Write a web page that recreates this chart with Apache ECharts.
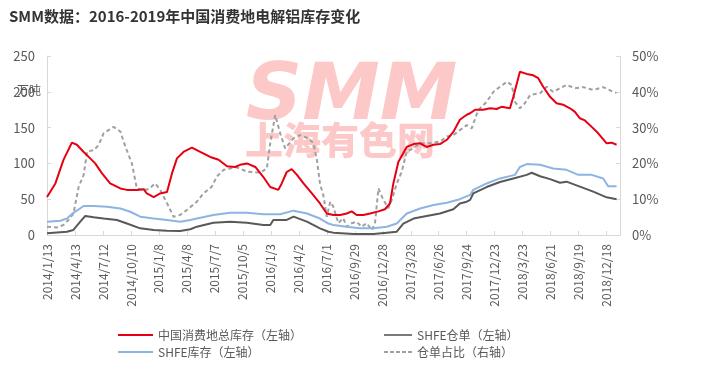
<!DOCTYPE html>
<html>
<head>
<meta charset="utf-8">
<script src="https://cdn.jsdelivr.net/npm/echarts@6/dist/echarts.min.js"></script>
<style>
  html, body { margin: 0; padding: 0; background: #fff; }
  #main { width: 717px; height: 376px; }
</style>
</head>
<body>
<div id="main"></div>
<script>
// x 轴：以 2014/1/13 为第 0 天，每 90 天一个刻度
const tickLabels = ['2014/1/13', '2014/4/13', '2014/7/12', '2014/10/10', '2015/1/8', '2015/4/8',
    '2015/7/7', '2015/10/5', '2016/1/3', '2016/4/2', '2016/7/1', '2016/9/29', '2016/12/28',
    '2017/3/28', '2017/6/26', '2017/9/24', '2017/12/23', '2018/3/23', '2018/6/21', '2018/9/19', '2018/12/18'];

const seriesNames = ['中国消费地总库存（左轴）', 'SHFE仓单（左轴）', 'SHFE库存（左轴）', '仓单占比（右轴）'];

// [天数, 万吨]
const totalStock = [[0,53],[27,72],[53,105],[80,129],[96,126],[118,116],[139,107],[155,100],[177,86],[203,72],
    [236,65],[257,63],[289,63],[311,64],[321,58],[343,53],[364,58],[386,60],[402,86],[418,107],[439,116],
    [466,122],[493,116],[525,109],[552,105],[579,96],[605,95],[621,98],[643,100],[670,95],[696,81],[718,67],
    [744,63],[755,72],[771,88],[787,92],[804,84],[825,72],[852,58],[878,44],[900,30],[921,28],[943,28],
    [964,30],[980,33],[996,28],[1018,28],[1039,30],[1066,33],[1087,36],[1103,44],[1114,72],[1130,102],
    [1157,123],[1179,127],[1200,128],[1221,123],[1243,126],[1264,127],[1286,133],[1307,144],[1328,161],
    [1350,168],[1361,170],[1377,175],[1403,175],[1425,177],[1446,176],[1462,179],[1489,177],[1500,193],
    [1521,228],[1543,225],[1564,223],[1580,219],[1596,207],[1618,193],[1639,184],[1660,182],[1682,177],
    [1698,172],[1714,163],[1730,160],[1752,151],[1773,142],[1800,128],[1816,129],[1832,126]];

const shfeWarrant = [[0,2.3],[64,4.6],[85,7],[107,18.6],[123,26.5],[150,24.7],[182,23],[225,21],[257,16],
    [300,9.3],[343,7],[386,6],[428,5.6],[461,8],[482,11.6],[535,17],[589,18.6],[643,17],[696,14],[718,14],
    [728,21],[771,21],[793,25.6],[836,18.6],[878,9.3],[905,4.6],[921,3.3],[986,1.4],[1050,1.4],[1093,3.3],
    [1125,4.6],[1146,16],[1179,23],[1221,26.5],[1264,30],[1307,36],[1328,44],[1350,46.5],[1361,49],
    [1371,58],[1414,67],[1457,74],[1500,79],[1543,84],[1559,87],[1586,82],[1618,78],[1650,73],[1671,74.5],
    [1714,67.5],[1757,60.5],[1800,52.6],[1832,50]];

const shfeStock = [[0,18.6],[43,20],[64,23],[85,31],[118,40.5],[150,40.5],[193,39.5],[236,37],[268,32.5],
    [300,25.6],[343,23],[386,21],[428,18.6],[461,21],[482,23],[535,28],[589,31],[643,31],[696,29],[750,29],
    [793,34],[836,30],[878,23],[905,16],[921,14],[964,11.6],[1007,9.3],[1050,9.3],[1093,11.6],[1125,16],
    [1157,30],[1200,37],[1243,42],[1286,45],[1328,50],[1361,56],[1371,63],[1414,72],[1457,79],[1505,84],
    [1521,95],[1543,99],[1586,98],[1628,93],[1671,91],[1709,84],[1752,84],[1789,79],[1805,68],[1832,68]];

// [天数, %]
const warrantRatio = [[0,2.3],[32,2.1],[53,2.8],[69,4.2],[85,6],[102,13.5],[118,16.8],[129,23.3],[150,23.7],
    [166,25.1],[182,28.4],[198,29.3],[214,30.2],[236,28.9],[252,24.7],[273,20],[289,13],[311,12.6],
    [327,12.8],[348,14.4],[364,12.6],[386,8.9],[407,5.1],[428,5.6],[450,7],[482,9.3],[503,11.6],[530,13.5],
    [546,16.3],[568,18.2],[589,18.6],[611,18.9],[643,17.7],[686,17.4],[707,18.6],[718,25.6],[734,33.5],
    [750,28.4],[766,24.2],[793,27],[814,27.9],[841,27],[857,25.6],[868,21],[878,14.4],[889,11],[900,5.1],
    [911,9.3],[921,7.9],[937,3.3],[953,4.7],[964,2.3],[980,3.3],[996,3.7],[1012,2.3],[1028,3.3],[1045,1.4],
    [1055,3.3],[1066,13],[1082,9.8],[1098,7.5],[1109,9.8],[1125,14.4],[1141,17.7],[1157,23.3],[1179,24.2],
    [1200,25.6],[1232,25.6],[1264,26.1],[1286,27.5],[1307,27.9],[1328,29.3],[1350,30.7],[1366,29.8],
    [1387,34.9],[1414,37.2],[1436,40],[1457,41.4],[1479,42.8],[1495,41.9],[1505,37.2],[1521,35.4],
    [1537,36.8],[1554,39.1],[1586,39.6],[1607,41.4],[1628,40],[1650,41],[1671,41.9],[1698,41],[1725,41.3],
    [1757,40.5],[1789,41.3],[1821,40],[1832,39.7]];

const FONT = '"Noto Sans CJK SC", sans-serif';
const labelColor = '#595959';
const axisGray = '#d9d9d9';

// 图例图标：实线 / 虚线
const solidIcon = 'path://M0,0h35v2h-35z';
const dashIcon = 'path://M0,0h4v2h-4zM6,0h4v2h-4zM12,0h4v2h-4zM18,0h4v2h-4zM24,0h4v2h-4z';

const chart = echarts.init(document.getElementById('main'));

const option = {
    animation: false,
    backgroundColor: '#fff',
    textStyle: { fontFamily: FONT },
    title: {
        text: 'SMM数据：2016-2019年中国消费地电解铝库存变化',
        left: 4,
        top: 4,
        textStyle: { fontSize: 15, fontWeight: 'bold', color: '#333', fontFamily: FONT }
    },
    graphic: [
        {
            type: 'text', left: 246, top: 60, z: -1,
            style: { text: 'SMM', fill: '#fcc8c8', font: 'italic 900 78px "DejaVu Sans"' }
        },
        {
            type: 'text', left: 245, top: 121, z: -1,
            style: { text: '上海有色网', fill: '#fcc8c8', font: '900 38px "Noto Sans CJK SC"' }
        },
        {
            type: 'text', left: 17, top: 84,
            style: { text: '万吨', fill: labelColor, font: '12px "Noto Sans CJK SC"' }
        }
    ],
    legend: [
        {
            orient: 'vertical', left: 118, top: 329, padding: 0, itemGap: 5, itemWidth: 35, itemHeight: 12,
            data: [
                { name: seriesNames[0], icon: solidIcon },
                { name: seriesNames[2], icon: solidIcon }
            ],
            textStyle: { fontSize: 12, color: labelColor, fontFamily: FONT }
        },
        {
            orient: 'vertical', left: 384, top: 329, padding: 0, itemGap: 5, itemWidth: 28, itemHeight: 12,
            data: [
                { name: seriesNames[1], icon: solidIcon },
                { name: seriesNames[3], icon: dashIcon }
            ],
            textStyle: { fontSize: 12, color: labelColor, fontFamily: FONT }
        }
    ],
    grid: { left: 47, right: 97, top: 56, bottom: 141 },
    xAxis: {
        type: 'value',
        min: 0,
        max: 1843,
        interval: 90,
        axisLine: { lineStyle: { color: axisGray, width: 1 } },
        axisTick: { inside: true, length: 4, lineStyle: { color: axisGray } },
        splitLine: { show: false },
        axisLabel: {
            rotate: 90,
            margin: 9,
            color: labelColor,
            fontSize: 12,
            showMaxLabel: false,
            formatter: function (v) {
                const i = v / 90;
                return Number.isInteger(i) && tickLabels[i] ? tickLabels[i] : '';
            }
        }
    },
    yAxis: [
        {
            type: 'value', min: 0, max: 250, interval: 50,
            axisLine: { show: true, lineStyle: { color: axisGray } },
            axisTick: { show: true, inside: true, length: 4, lineStyle: { color: axisGray } },
            splitLine: { show: false },
            axisLabel: { color: labelColor, fontSize: 13, margin: 12 }
        },
        {
            type: 'value', min: 0, max: 50, interval: 10,
            axisLine: { show: true, lineStyle: { color: axisGray } },
            axisTick: { show: true, inside: true, length: 4, lineStyle: { color: axisGray } },
            splitLine: { show: false },
            axisLabel: { color: labelColor, fontSize: 13, margin: 12, formatter: '{value}%' }
        }
    ],
    series: [
        {
            name: seriesNames[3], type: 'line', yAxisIndex: 1, symbol: 'none', data: warrantRatio, z: 2,
            lineStyle: { color: '#a0a0a0', width: 2, type: [4, 3] }, itemStyle: { color: '#a0a0a0' }
        },
        {
            name: seriesNames[2], type: 'line', symbol: 'none', data: shfeStock, z: 3,
            lineStyle: { color: '#8db4e2', width: 2 }, itemStyle: { color: '#8db4e2' }
        },
        {
            name: seriesNames[1], type: 'line', symbol: 'none', data: shfeWarrant, z: 3,
            lineStyle: { color: '#595959', width: 2 }, itemStyle: { color: '#595959' }
        },
        {
            name: seriesNames[0], type: 'line', symbol: 'none', data: totalStock, z: 4,
            lineStyle: { color: '#e60012', width: 2 }, itemStyle: { color: '#e60012' }
        }
    ]
};

chart.setOption(option);
</script>
</body>
</html>
